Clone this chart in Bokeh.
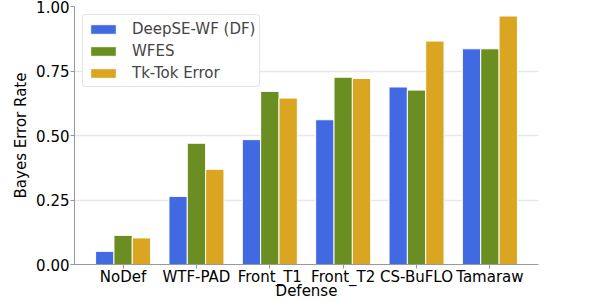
from bokeh.plotting import figure
from bokeh.models import ColumnDataSource, FixedTicker, Legend, LegendItem, Range1d
from bokeh.embed import file_html
from bokeh.resources import INLINE

categories = ["NoDef", "WTF-PAD", "Front_T1", "Front_T2", "CS-BuFLO", "Tamaraw"]
series_names = ["DeepSE-WF (DF)", "WFES", "Tk-Tok Error"]
deepse = [0.051, 0.264, 0.484, 0.561, 0.688, 0.836]
wfes = [0.113, 0.470, 0.671, 0.726, 0.676, 0.836]
tiktok = [0.103, 0.369, 0.645, 0.721, 0.866, 0.963]
colors = ["#4169E1", "#6B8E23", "#DAA520"]
y_ticks = [0.0, 0.25, 0.5, 0.75, 1.0]

FONT = "DejaVu Sans"
bar_w = 0.25
offsets = [-bar_w, 0.0, bar_w]

p = figure(width=596, height=302, output_backend="svg", toolbar_location=None,
           x_range=Range1d(-0.6625, 5.6625), y_range=Range1d(0, 1.0),
           min_border_left=74, min_border_right=58, min_border_top=6, min_border_bottom=38)
p.outline_line_color = None

renderers = []
for vals, off, col in zip([deepse, wfes, tiktok], offsets, colors):
    xs = [i + off for i in range(len(categories))]
    src = ColumnDataSource(dict(x=xs, top=vals))
    r = p.vbar(x="x", top="top", bottom=0, width=bar_w, source=src,
               fill_color=col, line_color="white", line_width=1)
    renderers.append(r)

# axes
p.xaxis.ticker = FixedTicker(ticks=list(range(len(categories))))
p.xaxis.major_label_overrides = {i: c for i, c in enumerate(categories)}
p.xaxis.axis_label = "Defense"
p.yaxis.axis_label = "Bayes Error Rate"
p.yaxis.ticker = FixedTicker(ticks=y_ticks)
p.yaxis.major_label_overrides = {t: f"{t:.2f}" for t in y_ticks}

for ax in (p.xaxis, p.yaxis):
    ax.axis_line_color = "#999999"
    ax.major_tick_line_color = "#999999"
    ax.minor_tick_line_color = None
    ax.major_tick_in = 0
    ax.major_tick_out = 4
    ax.major_label_text_font = FONT
    ax.major_label_text_font_size = "15px"
    ax.major_label_text_color = "black"
    ax.axis_label_text_font = FONT
    ax.axis_label_text_font_size = "15px"
    ax.axis_label_text_font_style = "normal"
    ax.axis_label_text_color = "black"

p.xaxis.major_label_standoff = -1
p.xaxis.axis_label_standoff = -7
p.yaxis.major_label_standoff = 1
p.yaxis.axis_label_standoff = 3

p.xgrid.grid_line_color = None
p.ygrid.ticker = FixedTicker(ticks=y_ticks)
p.ygrid.grid_line_color = "#e8e8e8"
p.ygrid.grid_line_width = 1.5
p.ygrid.level = "underlay"

legend = Legend(items=[LegendItem(label=n, renderers=[r]) for n, r in zip(series_names, renderers)],
                location="top_left")
legend.label_text_font = FONT
legend.label_text_font_size = "15px"
legend.glyph_width = 32
legend.glyph_height = 12
legend.label_height = 19
legend.label_standoff = 13
legend.spacing = 3
legend.padding = 4
legend.margin = 8
legend.border_line_color = "#cccccc"
legend.border_radius = 4
legend.background_fill_alpha = 0.9
p.add_layout(legend)

open("out.html", "w").write(file_html(p, INLINE))
